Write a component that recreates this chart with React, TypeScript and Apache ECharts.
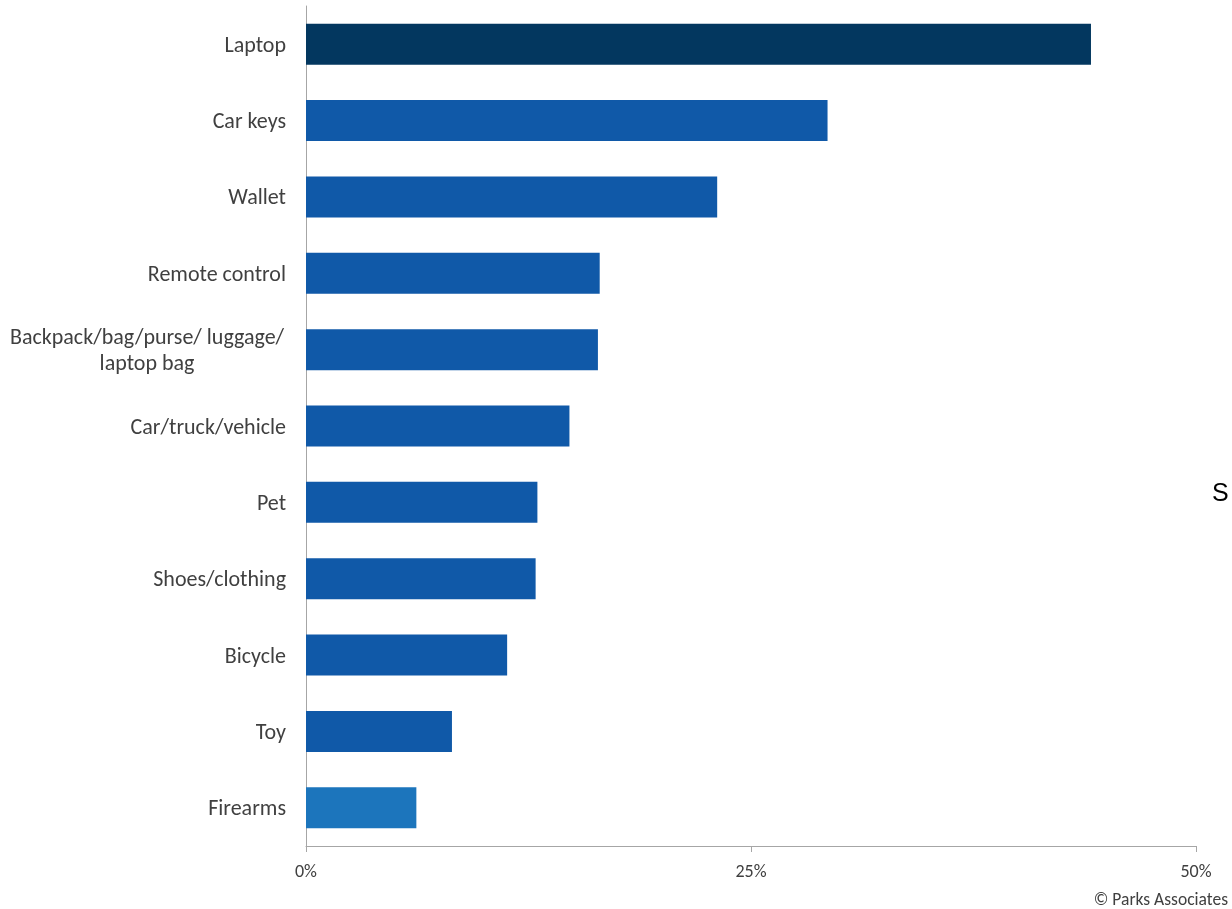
import React, { useEffect, useRef } from "react";
import * as echarts from "echarts";

const categories = [
  "Laptop",
  "Car keys",
  "Wallet",
  "Remote control",
  "Backpack/bag/purse/ luggage/\nlaptop bag",
  "Car/truck/vehicle",
  "Pet",
  "Shoes/clothing",
  "Bicycle",
  "Toy",
  "Firearms",
];
const values = [44.1, 29.3, 23.1, 16.5, 16.4, 14.8, 13.0, 12.9, 11.3, 8.2, 6.2];
const barColors = [
  "#03375F",
  "#1059A8",
  "#1059A8",
  "#1059A8",
  "#1059A8",
  "#1059A8",
  "#1059A8",
  "#1059A8",
  "#1059A8",
  "#1059A8",
  "#1C75BC",
];
const xTicks = [0, 25, 50];

const FONT = "Carlito, Lato, 'Open Sans', sans-serif";

export default function App() {
  const ref = useRef<HTMLDivElement>(null);
  useEffect(() => {
    if (!ref.current) return;
    const chart = echarts.init(ref.current, null, { renderer: "svg" });
    chart.setOption({
      animation: false,
      grid: { left: 306, right: 36, top: 6, bottom: 63, containLabel: false },
      xAxis: {
        type: "value",
        min: xTicks[0],
        max: xTicks[xTicks.length - 1],
        interval: 25,
        splitLine: { show: false },
        axisLine: { show: true, lineStyle: { color: "#A6A6A6", width: 1 } },
        axisTick: { show: true, length: 6, lineStyle: { color: "#A6A6A6" } },
        axisLabel: {
          formatter: "{value}%",
          color: "#404040",
          fontFamily: FONT,
          fontSize: 18,
          margin: 16,
        },
      },
      yAxis: {
        type: "category",
        data: categories,
        inverse: true,
        axisLine: { show: true, lineStyle: { color: "#A6A6A6", width: 1 } },
        axisTick: { show: false },
        axisLabel: {
          color: "#404040",
          fontFamily: FONT,
          fontSize: 22,
          margin: 20,
          lineHeight: 26,
          formatter: (v: string) => {
            if (v.indexOf("\n") >= 0) {
              return v
                .split("\n")
                .map((s) => "{c|" + s + "}")
                .join("\n");
            }
            return v;
          },
          rich: {
            c: {
              width: 278,
              align: "center",
              color: "#404040",
              fontFamily: FONT,
              fontSize: 22,
              lineHeight: 26,
            },
          },
        },
      },
      series: [
        {
          type: "bar",
          barWidth: 41,
          data: values.map((v, i) => ({
            value: v,
            itemStyle: { color: barColors[i] },
          })),
        },
      ],
      graphic: [
        {
          type: "text",
          x: 1228,
          y: 899,
          style: {
            text: "© Parks Associates",
            fill: "#404040",
            font: "17.5px " + FONT,
            lineHeight: 17,
            textAlign: "right",
            textVerticalAlign: "middle",
          },
        },
        {
          type: "text",
          x: 1212,
          y: 492,
          style: {
            text: "S",
            fill: "#000000",
            font: "25px 'Liberation Sans', Arial, sans-serif",
            textAlign: "left",
            textVerticalAlign: "middle",
          },
        },
      ],
    });
    return () => chart.dispose();
  }, []);
  return (
    <div
      ref={ref}
      style={{ position: "fixed", left: 0, top: 0, width: 1232, height: 909 }}
    />
  );
}
